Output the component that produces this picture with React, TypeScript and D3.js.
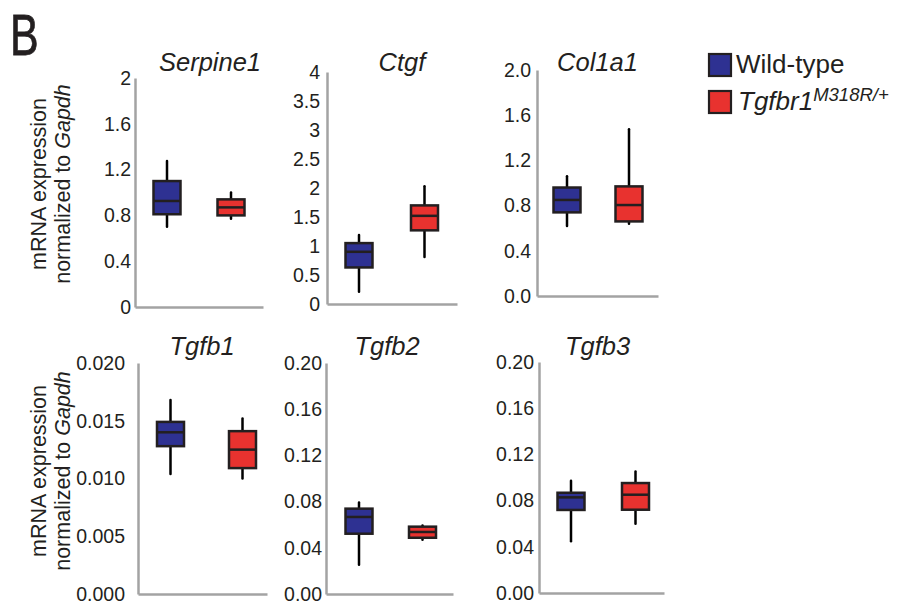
import React, { useEffect, useRef } from "react";
import * as d3 from "d3";

// ---- data ----
const genes = ["Serpine1", "Ctgf", "Col1a1", "Tgfb1", "Tgfb2", "Tgfb3"];
const groups = ["Wild-type", "Tgfbr1"];
const yMax = [2, 4, 2, 0.02, 0.2, 0.2];
const yTickValues = [
  [0, 0.4, 0.8, 1.2, 1.6, 2],
  [0, 0.5, 1, 1.5, 2, 2.5, 3, 3.5, 4],
  [0, 0.4, 0.8, 1.2, 1.6, 2],
  [0, 0.005, 0.01, 0.015, 0.02],
  [0, 0.04, 0.08, 0.12, 0.16, 0.2],
  [0, 0.04, 0.08, 0.12, 0.16, 0.2],
];
const yTickLabels = [
  ["0", "0.4", "0.8", "1.2", "1.6", "2"],
  ["0", "0.5", "1", "1.5", "2", "2.5", "3", "3.5", "4"],
  ["0.0", "0.4", "0.8", "1.2", "1.6", "2.0"],
  ["0.000", "0.005", "0.010", "0.015", "0.020"],
  ["0.00", "0.04", "0.08", "0.12", "0.16", "0.20"],
  ["0.00", "0.04", "0.08", "0.12", "0.16", "0.20"],
];
// [whisker low, Q1, median, Q3, whisker high]
const wildTypeStats = [
  [0.7, 0.81, 0.926, 1.1, 1.275],
  [0.21, 0.63, 0.9, 1.05, 1.19],
  [0.62, 0.74, 0.85, 0.96, 1.06],
  [0.0104, 0.0128, 0.014, 0.0149, 0.0168],
  [0.0254, 0.0522, 0.0667, 0.0739, 0.0793],
  [0.0447, 0.0719, 0.0828, 0.0868, 0.0972],
];
const mutantStats = [
  [0.77, 0.8, 0.87, 0.94, 1.0],
  [0.81, 1.27, 1.52, 1.7, 2.03],
  [0.64, 0.66, 0.805, 0.97, 1.475],
  [0.01, 0.0109, 0.0125, 0.0141, 0.0152],
  [0.047, 0.0487, 0.0537, 0.0583, 0.0594],
  [0.06, 0.0721, 0.0851, 0.0952, 0.1053],
];

// ---- layout (positions only) ----
const panelLayout = [
  { x0: 135, x1: 263, top: 78, bottom: 307, wtOff: 32, mutOff: 96, titleX: 210, gap: 4 },
  { x0: 327, x1: 457, top: 72, bottom: 304, wtOff: 32, mutOff: 97.5, titleX: 402, gap: 7 },
  { x0: 537, x1: 658, top: 70, bottom: 296, wtOff: 30, mutOff: 92, titleX: 597.5, gap: 6 },
  { x0: 138, x1: 267, top: 363, bottom: 594, wtOff: 32.5, mutOff: 104.5, titleX: 202, gap: 13 },
  { x0: 326, x1: 453, top: 363, bottom: 594, wtOff: 33, mutOff: 96.5, titleX: 387, gap: 4 },
  { x0: 539, x1: 664, top: 362, bottom: 593, wtOff: 32, mutOff: 96.5, titleX: 597.5, gap: 5 },
];

const BLUE = "#2e3192";
const RED = "#e8322f";
const DARK = "#231f20";
const AXIS = "#a3a3a3";
const FONT = "'Liberation Sans', Arial, Helvetica, sans-serif";

export default function App() {
  const ref = useRef<SVGSVGElement>(null);

  useEffect(() => {
    const svg = d3.select(ref.current);
    svg.selectAll("*").remove();

    // panel letter
    svg
      .append("text")
      .attr("transform", "translate(10,55) scale(0.74,1)")
      .attr("font-family", FONT)
      .attr("font-size", 58)
      .attr("fill", DARK)
      .attr("stroke", DARK)
      .attr("stroke-width", 0.8)
      .text("B");

    // y-axis labels (two rows)
    [184, 471].forEach((cy) => {
      const g = svg.append("g").attr("transform", `translate(0,${cy}) rotate(-90)`);
      g.append("text")
        .attr("x", 0)
        .attr("y", 46)
        .attr("text-anchor", "middle")
        .attr("font-family", FONT)
        .attr("font-size", 21.5)
        .attr("fill", DARK)
        .text("mRNA expression");
      const t2 = g
        .append("text")
        .attr("x", 0)
        .attr("y", 69.5)
        .attr("text-anchor", "middle")
        .attr("font-family", FONT)
        .attr("font-size", 21.5)
        .attr("fill", DARK);
      t2.append("tspan").text("normalized to ");
      t2.append("tspan").attr("font-style", "italic").text("Gapdh");
    });

    genes.forEach((gene, i) => {
      const L = panelLayout[i];
      const y = d3.scaleLinear().domain([0, yMax[i]]).range([L.bottom, L.top]);
      const x = d3
        .scaleOrdinal<string, number>()
        .domain(groups)
        .range([L.x0 + L.wtOff, L.x0 + L.mutOff]);
      const g = svg.append("g");

      // y axis
      const yAxis = d3
        .axisLeft(y)
        .tickValues(yTickValues[i])
        .tickFormat((_d, k) => yTickLabels[i][k])
        .tickSize(0)
        .tickPadding(L.gap);
      const ya = g.append("g").attr("transform", `translate(${L.x0},0)`).call(yAxis);
      ya.select(".domain").attr("stroke", AXIS).attr("stroke-width", 2.5);
      ya.selectAll("text")
        .attr("font-family", FONT)
        .attr("font-size", 19.5)
        .attr("fill", DARK);

      // x axis
      const xs = d3.scaleLinear().domain([0, 1]).range([L.x0, L.x1]);
      const xAxis = d3.axisBottom(xs).tickValues([]).tickSizeOuter(0);
      const xa = g.append("g").attr("transform", `translate(0,${L.bottom})`).call(xAxis);
      xa.select(".domain").attr("stroke", AXIS).attr("stroke-width", 2.5);

      // title
      g.append("text")
        .attr("x", L.titleX)
        .attr("y", i < 3 ? 71 : 355)
        .attr("text-anchor", "middle")
        .attr("font-family", FONT)
        .attr("font-style", "italic")
        .attr("font-size", 25.5)
        .attr("fill", DARK)
        .text(gene);

      const boxW = 27;
      const series = [
        { key: groups[0], s: wildTypeStats[i], color: BLUE },
        { key: groups[1], s: mutantStats[i], color: RED },
      ];
      series.forEach(({ key, s, color }) => {
        const cx = x(key);
        const [lo, q1, med, q3, hi] = s;
        g.append("line")
          .attr("x1", cx).attr("x2", cx)
          .attr("y1", y(hi)).attr("y2", y(q3))
          .attr("stroke", "#000").attr("stroke-width", 2.5).attr("stroke-linecap", "round");
        g.append("line")
          .attr("x1", cx).attr("x2", cx)
          .attr("y1", y(q1)).attr("y2", y(lo))
          .attr("stroke", "#000").attr("stroke-width", 2.5).attr("stroke-linecap", "round");
        g.append("rect")
          .attr("x", cx - boxW / 2)
          .attr("y", y(q3))
          .attr("width", boxW)
          .attr("height", y(q1) - y(q3))
          .attr("fill", color)
          .attr("stroke", DARK)
          .attr("stroke-width", 2.5);
        g.append("line")
          .attr("x1", cx - boxW / 2).attr("x2", cx + boxW / 2)
          .attr("y1", y(med)).attr("y2", y(med))
          .attr("stroke", DARK).attr("stroke-width", 2.5);
      });
    });

    // legend
    const legend = svg.append("g");
    const ly = d3.scalePoint<string>().domain(groups).range([65, 102]);
    [BLUE, RED].forEach((c, k) => {
      const cy = ly(groups[k])!;
      legend.append("rect")
        .attr("x", 709).attr("y", cy - 11)
        .attr("width", 22).attr("height", 22)
        .attr("fill", c).attr("stroke", DARK).attr("stroke-width", 2.2);
    });
    legend.append("text")
      .attr("x", 736).attr("y", ly(groups[0])! + 8)
      .attr("font-family", FONT).attr("font-size", 26).attr("fill", DARK)
      .text("Wild-type");
    const t = legend.append("text")
      .attr("x", 738).attr("y", ly(groups[1])! + 8)
      .attr("font-family", FONT).attr("font-size", 26).attr("font-style", "italic").attr("fill", DARK);
    t.append("tspan").text("Tgfbr1");
    t.append("tspan").attr("font-size", 18.5).attr("dy", -9).text("M318R/+");
  }, []);

  return (
    <svg
      ref={ref}
      width={901}
      height={604}
      style={{ position: "absolute", left: 0, top: 0, background: "#fff" }}
    />
  );
}
